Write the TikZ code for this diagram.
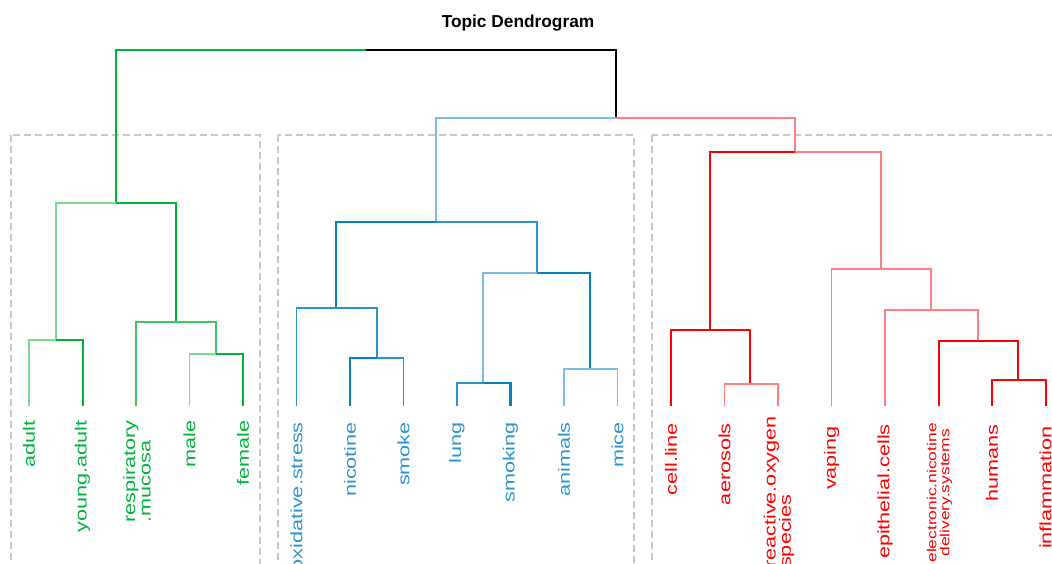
\documentclass[tikz,border=0pt]{standalone}
\usepackage{fontspec}
\setmainfont{Liberation Sans}
\newfontfamily\labfont[FakeStretch=1.32]{Liberation Sans}
\usepackage{xcolor}
\usetikzlibrary{positioning}

\definecolor{grnD}{HTML}{00B33C}
\definecolor{grnM}{HTML}{3CC864}
\definecolor{grnL}{HTML}{7ADB95}
\definecolor{bluD}{HTML}{0A7FC0}
\definecolor{bluM}{HTML}{2C95D0}
\definecolor{bluL}{HTML}{7DBDE2}
\definecolor{redD}{HTML}{FF0000}
\definecolor{redL}{HTML}{FF8080}
\definecolor{boxC}{HTML}{C8C8C8}

\tikzset{
	gd/.style={draw=grnD,line width=2pt},
	gm/.style={draw=grnM,line width=1.7pt},
	gl/.style={draw=grnL,line width=1.5pt},
	bd/.style={draw=bluD,line width=2.2pt},
	bm/.style={draw=bluM,line width=1.6pt},
	bl/.style={draw=bluL,line width=1.6pt},
	rd/.style={draw=redD,line width=2pt},
	rl/.style={draw=redL,line width=1.6pt},
	clusterbox/.style={draw=boxC,line width=1.3pt,dash pattern=on 7pt off 4pt},
	leaflabel/.style={rotate=90,anchor=east,inner sep=0pt,align=left,
		font=\labfont\fontsize{16.4}{15.5}\selectfont},
}

\begin{document}
\begin{tikzpicture}[x=1pt,y=-1pt]
\useasboundingbox (0,0) rectangle (1052,564);
\clip (0,0) rectangle (1052,564);

\node[font=\bfseries\fontsize{17.3}{19}\selectfont] (title) at (518,23) {Topic Dendrogram};

% cluster boxes
\draw[clusterbox] (11,135) rectangle (260,600);
\draw[clusterbox] (278,135) rectangle (634,600);
\draw[clusterbox] (652,135) rectangle (1070,600);

% merge points
\coordinate (root) at (366,50);
\coordinate (top2) at (616,118);
\coordinate (g4) at (116,203);
\coordinate (g1) at (56,340);
\coordinate (g3) at (176,322);
\coordinate (g2) at (216,354);
\coordinate (btop) at (436,222);
\coordinate (b1) at (336,308);
\coordinate (b2) at (377,358);
\coordinate (b3) at (537,273);
\coordinate (b4) at (483,383);
\coordinate (b5) at (590,369);
\coordinate (rtop) at (795,152);
\coordinate (r1) at (710,330);
\coordinate (r3) at (750,384);
\coordinate (r2) at (881,269);
\coordinate (r4) at (931,310);
\coordinate (r5) at (978,341);
\coordinate (r6) at (1018,380);

% leaves
\coordinate (adult) at (29,406);
\coordinate (young) at (82.5,406);
\coordinate (resp) at (136,406);
\coordinate (male) at (189.5,406);
\coordinate (female) at (243,406);
\coordinate (oxid) at (296.5,406);
\coordinate (nic) at (350,406);
\coordinate (smoke) at (403.5,406);
\coordinate (lung) at (457,406);
\coordinate (smoking) at (510.5,406);
\coordinate (animals) at (564,406);
\coordinate (mice) at (617.5,406);
\coordinate (cell) at (671,406);
\coordinate (aero) at (724.5,406);
\coordinate (ros) at (778,406);
\coordinate (vaping) at (831.5,406);
\coordinate (epi) at (885,406);
\coordinate (ends) at (938.5,406);
\coordinate (humans) at (992,406);
\coordinate (infl) at (1045.5,406);

% branches
\draw[black,line width=1.3pt] (root) -| (top2);
\draw[gd] (root) -| (g4);
\draw[gl] (g4) -| (g1);
\draw[gd] (g4) -| (g3);
\draw[gl] (g1) -| (adult);
\draw[gd] (g1) -| (young);
\draw[gm] (g3) -| (resp);
\draw[gm] (g3) -| (g2);
\draw[gl] (g2) -| (male);
\draw[gd] (g2) -| (female);

\draw[bl] (top2) -| (btop);
\draw[bd] (btop) -| (b1);
\draw[bm] (btop) -| (b3);
\draw[bm] (b1) -| (oxid);
\draw[bm] (b1) -| (b2);
\draw[bd] (b2) -| (nic);
\draw[bm] (b2) -| (smoke);
\draw[bl] (b3) -| (b4);
\draw[bd] (b3) -| (b5);
\draw[bm] (b4) -| (lung);
\draw[bd] (b4) -| (smoking);
\draw[bl] (b5) -| (animals);
\draw[bl] (b5) -| (mice);

\draw[rl] (top2) -| (rtop);
\draw[rd] (rtop) -| (r1);
\draw[rl] (rtop) -| (r2);
\draw[rd] (r1) -| (cell);
\draw[rd] (r1) -| (r3);
\draw[rl] (r3) -| (aero);
\draw[rl] (r3) -| (ros);
\draw[rl] (r2) -| (vaping);
\draw[rl] (r2) -| (r4);
\draw[rl] (r4) -| (epi);
\draw[rl] (r4) -| (r5);
\draw[rd] (r5) -| (ends);
\draw[rd] (r5) -| (r6);
\draw[rd] (r6) -| (humans);
\draw[rd] (r6) -| (infl);

% labels
\begin{scope}[every node/.style={leaflabel}]
	\node[text=grnD] (t-adult) at (29,420) {adult};
	\node[text=grnD] (t-young) at (82.5,420) {young.adult};
	\node[text=grnD] (t-resp) at (137,420) {respiratory\\.mucosa};
	\node[text=grnD] (t-male) at (189.5,420) {male};
	\node[text=grnD] (t-female) at (243,420) {female};

	\node[text=bluM] (t-oxid) at (296.5,422) {oxidative.stress};
	\node[text=bluM] (t-nic) at (350,422) {nicotine};
	\node[text=bluM] (t-smoke) at (403.5,422) {smoke};
	\node[text=bluM] (t-lung) at (457,422) {lung};
	\node[text=bluM] (t-smoking) at (510.5,422) {smoking};
	\node[text=bluM] (t-animals) at (564,422) {animals};
	\node[text=bluM] (t-mice) at (617.5,422) {mice};

	\node[text=redD] (t-cell) at (671,423) {cell.line};
	\node[text=redD] (t-aero) at (724.5,423) {aerosols};
	\node[text=redD] (t-ros) at (779,416) {reactive.oxygen\\species};
	\node[text=redD] (t-vaping) at (831.5,426) {vaping};
	\node[text=redD] (t-epi) at (885,424) {epithelial.cells};
	\node[text=redD,align=center,font=\labfont\fontsize{13.2}{13}\selectfont] (t-ends) at (939.5,423) {electronic.nicotine\\delivery.systems};
	\node[text=redD] (t-humans) at (992,424) {humans};
	\node[text=redD] (t-infl) at (1045.5,426) {inflammation};
\end{scope}
\end{tikzpicture}
\end{document}
